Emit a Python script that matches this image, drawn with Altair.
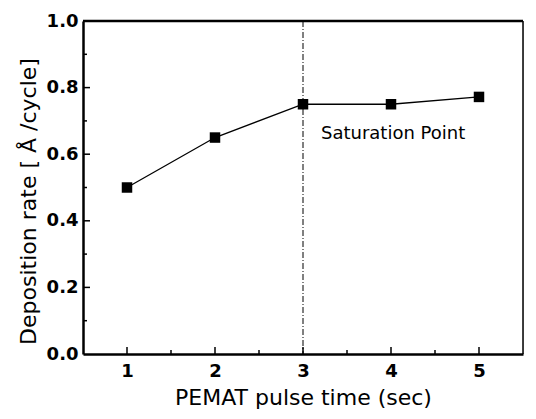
import altair as alt
import pandas as pd

pulse_time = [1, 2, 3, 4, 5]
dep_rate = [0.50, 0.65, 0.75, 0.75, 0.772]
x_ticks = [1, 1.5, 2, 2.5, 3, 3.5, 4, 4.5, 5]
y_ticks = [0.1, 0.2, 0.3, 0.4, 0.5, 0.6, 0.7, 0.8, 0.9]
saturation_x = [3]
annot_text = ["Saturation Point"]

W, H = 440, 333
FONT = "DejaVu Sans"

df = pd.DataFrame({"t": pulse_time, "r": dep_rate})
xt = pd.DataFrame({"t": x_ticks, "major": [v == int(v) for v in x_ticks]})
yt = pd.DataFrame({"r": y_ticks, "major": [abs(v * 5 - round(v * 5)) < 1e-6 for v in y_ticks]})

xs = alt.Scale(domain=[0.5, 5.5], nice=False, zero=False)
ys = alt.Scale(domain=[0, 1.0], nice=False)

x_axis = alt.Axis(values=[1, 2, 3, 4, 5], format="d", ticks=False, grid=False,
                  domainColor="black", domainWidth=2.5, labelFontSize=18,
                  labelFontWeight="bold", labelColor="black", labelPadding=8,
                  title="PEMAT pulse time (sec)", titleFontSize=22,
                  titleFontWeight="normal", titleColor="black", titlePadding=7,
                  labelFont=FONT, titleFont=FONT)
y_axis = alt.Axis(values=[0, 0.2, 0.4, 0.6, 0.8, 1.0], format=".1f", ticks=False,
                  grid=False, domainColor="black", domainWidth=2.5, labelFontSize=18,
                  labelFontWeight="bold", labelColor="black", labelPadding=5,
                  title="Deposition rate [ Å /cycle]", titleFontSize=22,
                  titleFontWeight="normal", titleColor="black", titlePadding=6,
                  titleY=180,
                  labelFont=FONT, titleFont=FONT)

base = alt.Chart(df)

line = base.mark_line(color="black", strokeWidth=1.3).encode(
    x=alt.X("t:Q", scale=xs, axis=x_axis),
    y=alt.Y("r:Q", scale=ys, axis=y_axis),
)
pts = base.mark_square(color="black", size=110, opacity=1).encode(
    x=alt.X("t:Q", scale=xs), y=alt.Y("r:Q", scale=ys)
)

vline = alt.Chart(pd.DataFrame({"t": saturation_x})).mark_rule(
    color="black", strokeWidth=1, strokeDash=[6, 2, 1, 2]
).encode(x=alt.X("t:Q", scale=xs), y=alt.value(0), y2=alt.value(H))

annot = alt.Chart(pd.DataFrame({"t": saturation_x, "lab": annot_text})).mark_text(
    align="left", baseline="middle", dx=18, fontSize=18,
    font=FONT, color="black"
).encode(x=alt.X("t:Q", scale=xs), y=alt.value(113), text="lab:N")

xt_major = alt.Chart(xt[xt.major]).mark_rule(color="black", strokeWidth=1.5).encode(
    x=alt.X("t:Q", scale=xs), y=alt.value(H), y2=alt.value(H - 7))
xt_minor = alt.Chart(xt[~xt.major]).mark_rule(color="black", strokeWidth=1.5).encode(
    x=alt.X("t:Q", scale=xs), y=alt.value(H), y2=alt.value(H - 4))
yt_major = alt.Chart(yt[yt.major]).mark_rule(color="black", strokeWidth=1.5).encode(
    y=alt.Y("r:Q", scale=ys), x=alt.value(0), x2=alt.value(7))
yt_minor = alt.Chart(yt[~yt.major]).mark_rule(color="black", strokeWidth=1.5).encode(
    y=alt.Y("r:Q", scale=ys), x=alt.value(0), x2=alt.value(4))

top_border = alt.Chart(pd.DataFrame({"t": [0]})).mark_rule(color="black", strokeWidth=2.5).encode(
    x=alt.value(0), x2=alt.value(W), y=alt.value(0))
right_border = alt.Chart(pd.DataFrame({"t": [0]})).mark_rule(color="black", strokeWidth=1.5).encode(
    x=alt.value(W), y=alt.value(0), y2=alt.value(H))

chart = alt.layer(vline, xt_major, xt_minor, yt_major, yt_minor, top_border, right_border,
                  line, pts, annot).properties(
    width=W, height=H,
    autosize=alt.AutoSizeParams(type="none"),
    padding={"left": 75, "top": 13, "right": 5, "bottom": 57},
).configure_view(strokeWidth=0).configure(background="white")

chart.save("out.html", embed_options={"renderer": "svg", "actions": False})
